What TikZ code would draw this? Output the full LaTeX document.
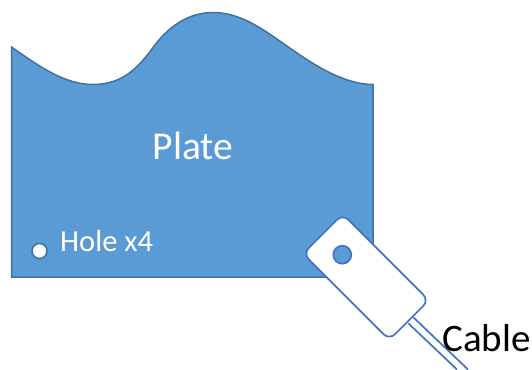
\documentclass[tikz,border=0pt]{standalone}
\usepackage{fontspec}
\setmainfont{Carlito}
\usetikzlibrary{calc}
\definecolor{plateblue}{HTML}{5B9BD5}
\definecolor{plateedge}{HTML}{41719C}
\definecolor{tagedge}{HTML}{4472C4}
\tikzset{
  platelabel/.style={text=white, inner sep=0pt},
  tagline/.style={draw=tagedge, line width=1.7pt},
}
\begin{document}
\begin{tikzpicture}[x=1pt,y=-1pt]
\useasboundingbox (0,0) rectangle (532,369);
% plate
\draw[plateedge, line width=1.5pt, fill=plateblue] (11.5,47) .. controls (40,67) and (65,84.5) .. (93,84.5)
  .. controls (125,84.5) and (140,65) .. (155,45) .. controls (170,25) and (190,12.5) .. (213,12.5)
  .. controls (245,12.5) and (270,35) .. (300,55) .. controls (325,72) and (350,84.5) .. (373,84.5)
  -- (373,277) -- (11.5,277) -- cycle;
\node[platelabel, font=\fontsize{39.5}{40}\selectfont] (plate) at (193,146) {Plate};
\node[draw=plateedge, line width=1.5pt, fill=white, circle, minimum size=15pt, inner sep=0pt] (hole) at (39.5,251) {};
\node[platelabel, font=\fontsize{30.5}{31}\selectfont, anchor=west] (holelabel) at (60,241) {Hole x4};
% cable
\coordinate (cableA) at (413.3,317.3);
\coordinate (cableB) at (408.3,323.3);
\coordinate (endA) at (468,369.5);
\coordinate (endB) at (457,369.5);
\draw[tagline] (cableA) -- (endA);
\draw[tagline] (cableB) -- (endB);
% tag
\node[tagline, fill=white, rectangle, rounded corners=8pt, rotate=-45, minimum width=122pt, minimum height=56pt, inner sep=0pt] (tag) at (366,277) {};
\node[tagline, fill=plateblue, circle, minimum size=18pt, inner sep=0pt] (taghole) at (342.3,254.7) {};
\node[inner sep=0pt, font=\fontsize{39}{39}\selectfont] (cable) at (486.5,338) {Cable};
\end{tikzpicture}
\end{document}
